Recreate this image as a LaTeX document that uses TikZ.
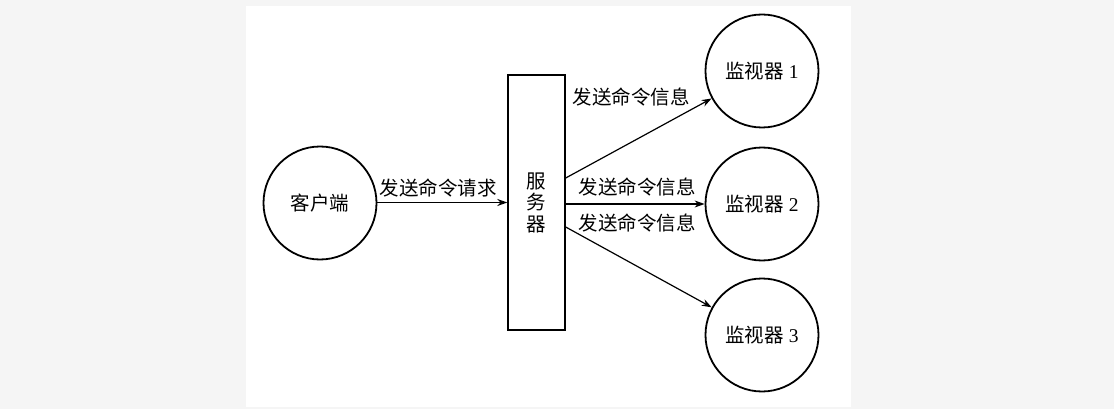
\documentclass[tikz,border=0pt]{standalone}
\usepackage{fontspec}
\setmainfont{Liberation Serif}
\newfontfamily\cjk{Noto Sans CJK SC}
\usetikzlibrary{arrows.meta}
\begin{document}
\begin{tikzpicture}[x=1pt,y=-1pt,
  txt/.style={font=\fontsize{19.5}{21.5}\selectfont\cjk, inner sep=0pt},
  circ/.style={draw, circle, line width=1.8pt, minimum size=113pt, inner sep=0pt, font=\fontsize{19.5}{21.5}\selectfont},
  box/.style={draw, rectangle, line width=1.4pt, minimum width=57pt, minimum height=255pt, inner sep=0pt, align=center, font=\fontsize{19.5}{21.5}\selectfont\cjk},
  conn/.style={line width=1.2pt, -{Stealth[length=10pt,width=7pt]}}]
\useasboundingbox (0,0) rectangle (1114,409);
\fill[black!4] (0,0) rectangle (1114,409);
\fill[white] (246,6) rectangle (851,407);
\node[circ] (client) at (320,203) {{\cjk 客户端}};
\node[box] (server) at (536.5,202.5) {服\\务\\器};
\node[circ] (m1) at (762,71) {{\cjk 监视器} 1};
\node[circ] (m2) at (762,204) {{\cjk 监视器} 2};
\node[circ] (m3) at (762,335) {{\cjk 监视器} 3};
\coordinate (s1) at ([yshift=24.5pt]server.east);
\coordinate (s2) at ([yshift=-1.5pt]server.east);
\coordinate (s3) at ([yshift=-24.5pt]server.east);
\draw[conn] (client.east |- server.west) -- (server.west);
\draw[conn] (s1) -- (m1);
\draw[conn] (s2) -- (s2 -| m2.west);
\draw[conn] (s3) -- (m3);
\node[txt] (l0) at (438,188) {发送命令请求};
\node[txt] (l1) at (631,97) {发送命令信息};
\node[txt] (l2) at (637,187) {发送命令信息};
\node[txt] (l3) at (637,223) {发送命令信息};
\end{tikzpicture}
\end{document}
